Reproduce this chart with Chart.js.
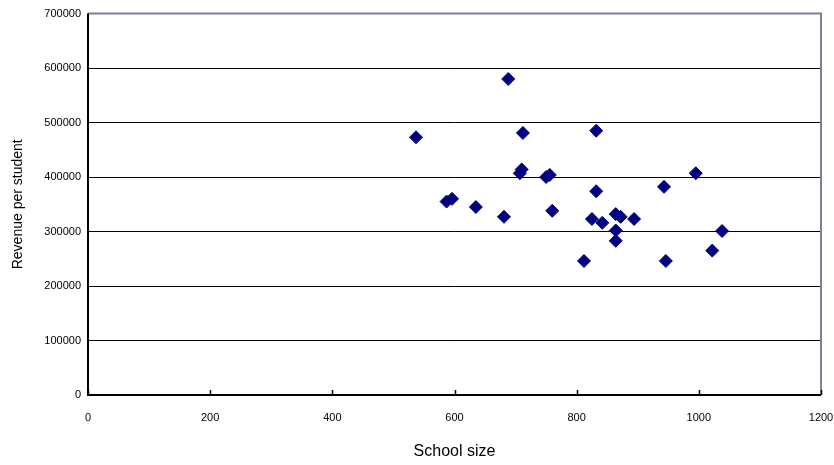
<!DOCTYPE html>
<html>
<head>
<meta charset="utf-8">
<script src="https://cdn.jsdelivr.net/npm/chart.js@4/dist/chart.umd.min.js"></script>
<style>
  html, body { margin: 0; padding: 0; background: #ffffff; }
  #wrap { width: 834px; height: 465px; }
</style>
</head>
<body>
<div id="wrap"><canvas id="c" width="834" height="465"></canvas></div>
<script>
// School size (students) and revenue per student for each school
const schoolSize = [537, 688, 712, 832, 710, 707, 750, 756, 760, 995, 943, 832,
                    587, 596, 635, 681, 825, 842, 864, 872, 894, 864, 864, 1038, 1022, 812, 946];
const revenuePerStudent = [473000, 580000, 481000, 485000, 414000, 407000, 400000, 404000, 338000, 407000, 382000, 374000,
                           355000, 360000, 345000, 327000, 323000, 316000, 332000, 327000, 323000, 302000, 283000, 301000, 265000, 246000, 246000];

const xTicks = [0, 200, 400, 600, 800, 1000, 1200];
const yTicks = [0, 100000, 200000, 300000, 400000, 500000, 600000, 700000];

const points = schoolSize.map((s, i) => ({ x: s, y: revenuePerStudent[i] }));

const FONT = "'Liberation Sans', Arial, sans-serif";

// Plot frame: black left/bottom axes, grey top/right edges, short inward x ticks
const framePlugin = {
  id: 'frame',
  afterDatasetsDraw(chart) {
    const { ctx, chartArea: a, scales } = chart;
    ctx.save();
    ctx.lineWidth = 2;
    ctx.strokeStyle = '#7f7f99';
    ctx.beginPath();
    ctx.moveTo(a.left, a.top);
    ctx.lineTo(a.right, a.top);
    ctx.lineTo(a.right, a.bottom);
    ctx.stroke();
    ctx.strokeStyle = '#000000';
    ctx.beginPath();
    ctx.moveTo(a.left, a.top);
    ctx.lineTo(a.left, a.bottom);
    ctx.lineTo(a.right, a.bottom);
    ctx.stroke();
    ctx.lineWidth = 1.5;
    ctx.beginPath();
    xTicks.forEach(v => {
      const px = Math.round(scales.x.getPixelForValue(v)) + 0.5;
      ctx.moveTo(px, a.bottom);
      ctx.lineTo(px, a.bottom - 5);
    });
    ctx.stroke();
    ctx.restore();
  }
};

const plain = v => String(v);

new Chart(document.getElementById('c'), {
  type: 'scatter',
  data: {
    datasets: [{
      data: points,
      pointStyle: 'rectRot',
      pointRadius: 6.5,
      pointHoverRadius: 6.5,
      backgroundColor: '#000080',
      borderColor: '#000080',
      borderWidth: 1
    }]
  },
  options: {
    responsive: false,
    animation: false,
    devicePixelRatio: 1,
    layout: { padding: { left: 0, right: 13, top: 13, bottom: 0 } },
    plugins: { legend: { display: false }, tooltip: { enabled: false } },
    scales: {
      x: {
        type: 'linear',
        min: 0, max: 1200,
        afterBuildTicks(scale) { scale.ticks = xTicks.map(v => ({ value: v })); },
        afterFit(scale) { scale.height = 70; scale.paddingRight = 0; scale.paddingLeft = 0; },
        grid: { display: false },
        border: { display: false },
        ticks: { color: '#000', padding: 8, maxRotation: 0, callback: plain, font: { family: FONT, size: 11 } },
        title: { display: true, text: 'School size', color: '#000', font: { family: FONT, size: 16 }, padding: { top: 0, bottom: 4 } }
      },
      y: {
        type: 'linear',
        min: 0, max: 700000,
        afterBuildTicks(scale) { scale.ticks = yTicks.map(v => ({ value: v })); },
        afterFit(scale) { scale.width = 88; },
        grid: { color: '#000000', lineWidth: 1, drawTicks: false },
        border: { display: false },
        ticks: { color: '#000', padding: 7, callback: plain, font: { family: FONT, size: 11 } },
        title: { display: true, text: 'Revenue per student', color: '#000', font: { family: FONT, size: 14 }, padding: { top: 10, bottom: 0 } }
      }
    }
  },
  plugins: [framePlugin]
});
</script>
</body>
</html>
